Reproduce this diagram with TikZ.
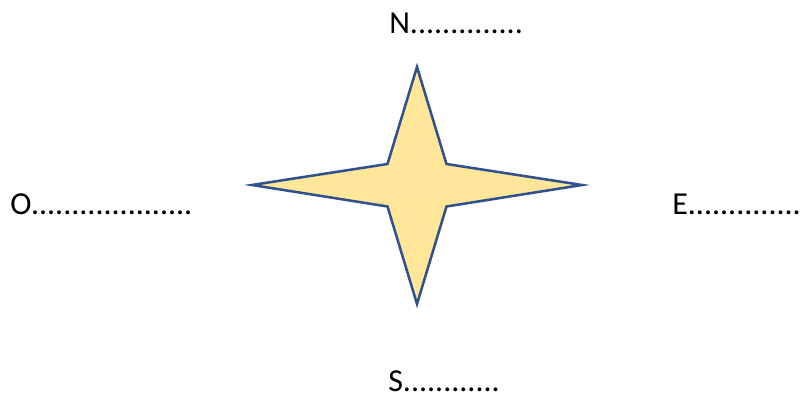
\documentclass[tikz,border=0pt]{standalone}
\usepackage{fontspec}
\setmainfont{Carlito}
\definecolor{starfill}{HTML}{FFE699}
\definecolor{starline}{HTML}{2F528F}
\begin{document}
\begin{tikzpicture}[
  x=0.75pt, y=-0.75pt,
  lab/.style={inner sep=0pt, anchor=base west, font=\fontsize{24}{28}\selectfont},
  rose/.style={draw=starline, fill=starfill, line width=1.9pt, line join=miter}
]
  \useasboundingbox (0,0) rectangle (801,398);

  \draw[rose] (417,67) -- (446.5,164) -- (582,185) -- (446.5,206.5)
    -- (417,304) -- (387.5,206.5) -- (252,185) -- (387.5,164) -- cycle;

  \node[lab] (nord)  at (389,34)  {N..............};
  \node[lab] (ouest) at (10,215)  {O....................};
  \node[lab] (est)   at (672,215) {E..............};
  \node[lab] (sud)   at (388,392) {S............};
\end{tikzpicture}
\end{document}
